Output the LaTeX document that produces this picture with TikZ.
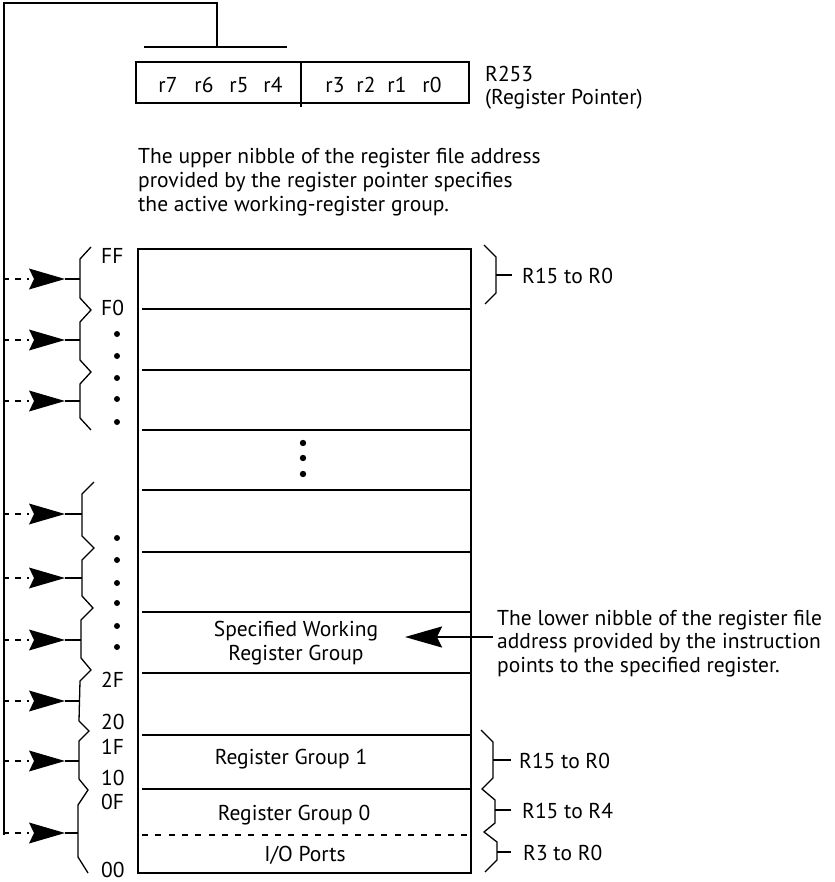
\documentclass[tikz,border=0pt]{standalone}
\usepackage{fontspec}
\setmainfont{PT Sans}
\usetikzlibrary{arrows.meta}
\begin{document}
\begin{tikzpicture}[x=1pt,y=-1pt,
  heavy/.style={line width=2pt},
  bracel/.style={line width=1.3pt, line join=miter},
  txt/.style={font=\fontsize{21.5}{24}\selectfont, inner sep=0pt},
  dot/.style={fill=black},
  ldash/.style={heavy, dash pattern=on 6pt off 6pt},
  head/.style={-{Stealth[length=37pt,width=21pt,inset=5pt]}}
]
\useasboundingbox (0,0) rectangle (834,882);

% ---------- register pointer ----------
\draw[heavy] (136,62) rectangle (469,103);
\draw[heavy] (301,61) -- (301,107);
\foreach \t/\x in {r7/168,r6/204,r5/239,r4/273,r3/335,r2/366,r1/397,r0/432}
  \node[txt] (\t) at (\x,85) {\t};
\node[txt, anchor=base west] (r253) at (485,82) {R253};
\node[txt, anchor=base west] (rp) at (485,105) {(Register Pointer)};

% selection bar and feedback line
\coordinate (barL) at (144,47);
\coordinate (barR) at (287,47);
\coordinate (barM) at (217,47);
\coordinate (topM) at (217,3);
\coordinate (topL) at (4,3);
\coordinate (botL) at (4,835);
\draw[heavy] (barL) -- (barR);
\draw[heavy] (barM) -- (topM) -- (topL) -- (botL);

% ---------- upper paragraph ----------
\node[txt, anchor=base west] (p1) at (138,164) {The upper nibble of the register file address};
\node[txt, anchor=base west] (p2) at (138,188) {provided by the register pointer specifies};
\node[txt, anchor=base west] (p3) at (138,212) {the active working-register group.};

% ---------- register file ----------
\draw[heavy] (138,249) rectangle (471,873);
\foreach \y in {309,370,430,490,552,612,673,735,789}
  \draw[heavy] (142,\y) -- (471,\y);
\draw[heavy, dash pattern=on 6pt off 7.3pt] (142,835) -- (471,835);

\foreach \y in {443,458,474} \fill[dot] (303,\y) circle (3.2);

\node[txt, anchor=base] (swa) at (296,636) {Specified Working};
\node[txt, anchor=base] (swb) at (296,660) {Register Group};
\node[txt, anchor=base] (rg1) at (291,764) {Register Group 1};
\node[txt, anchor=base] (rg0) at (294,820) {Register Group 0};
\node[txt, anchor=base] (io) at (305,861) {I/O Ports};

% ---------- right side ----------
\coordinate (lnS) at (493,637);
\coordinate (lnE) at (405,637);
\draw[heavy, head] (lnS) -- (lnE);
\node[txt, anchor=base west] (q1) at (497,625) {The lower nibble of the register file};
\node[txt, anchor=base west] (q2) at (497,648) {address provided by the instruction};
\node[txt, anchor=base west] (q3) at (497,672) {points to the specified register.};

\draw[bracel] (484,245) -- (496,257) -- (496,293) -- (485,304);
\draw[bracel] (496,275) -- (512,275);
\node[txt, anchor=west] (rr1) at (522,276) {R15 to R0};

\draw[bracel] (481,730) -- (493,742) -- (493,778) -- (482,789) -- (495,800) -- (495,823)
  -- (484,832) -- (497,842) -- (497,860) -- (485,872);
\draw[bracel] (493,760) -- (511,760);
\draw[bracel] (495,810) -- (511,810);
\draw[bracel] (497,852) -- (511,852);
\node[txt, anchor=west] (rr2) at (519,761) {R15 to R0};
\node[txt, anchor=west] (rr3) at (522,811) {R15 to R4};
\node[txt, anchor=west] (rr4) at (523,853) {R3 to R0};

% ---------- left side ----------
\draw[bracel] (91,247) -- (80,259) -- (80,298) -- (91,310) -- (80,322) -- (80,360)
  -- (91,372) -- (80,384) -- (80,418) -- (91,430);
\draw[bracel] (94,482) -- (82,494) -- (82,536) -- (94,548) -- (82,560) -- (82,596)
  -- (93,608) -- (81,620) -- (81,658) -- (91,670) -- (80,681) -- (79,721)
  -- (89,731) -- (79,741) -- (79,779) -- (88,790) -- (78,805) -- (78,857) -- (88,873);

\foreach \y/\bx [count=\i] in {279/80,340/80,401/80,514/82,578/82,640/81,701/79.5,761/79,833/78} {
  \coordinate (ls\i) at (3,\y);
  \coordinate (lh\i) at (29,\y);
  \coordinate (lt\i) at (65,\y);
  \coordinate (lb\i) at (\bx,\y);
  \draw[ldash] (ls\i) -- (lh\i);
  \fill (29,\y-10.5) -- (lt\i) -- (29,\y+10.5) -- (34,\y) -- cycle;
  \draw[bracel] (lt\i) -- (lb\i);
}

\foreach \y in {334,356,378,399,422,538,560,583,603,626,647} \fill[dot] (117,\y) circle (3);

\foreach \t/\y in {FF/256,F0/308,2F/680,20/722,1F/747,10/778,0F/802,00/870}
  \node[txt, anchor=west] (a\t) at (101,\y) {\t};
\end{tikzpicture}
\end{document}
